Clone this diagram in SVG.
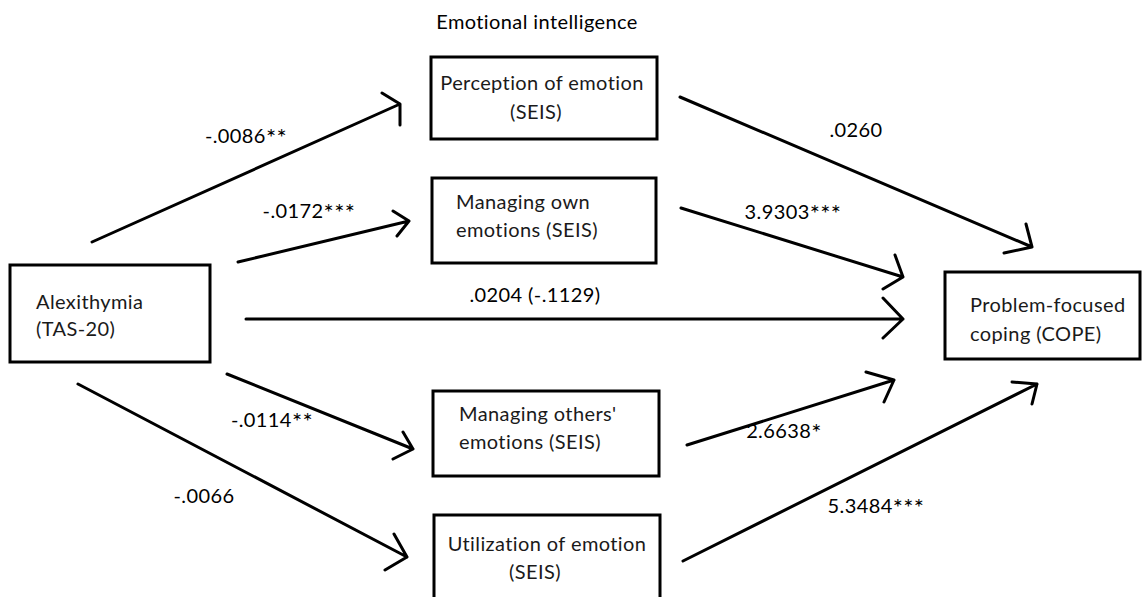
<svg xmlns="http://www.w3.org/2000/svg" width="1142" height="597" viewBox="0 0 1142 597">
<style>
.box{fill:#fff;stroke:#000;stroke-width:3}
.t{font-family:Lato,"Noto Sans",sans-serif;font-size:20px;letter-spacing:0.4px;fill:#1a1a1a}
.l{font-family:Lato,"Noto Sans",sans-serif;font-size:20px;letter-spacing:0.4px;fill:#000}
.s{font-size:24px}
.c{fill:none;stroke:#000;stroke-width:3;stroke-linecap:round;stroke-linejoin:round}
</style>
<rect width="1142" height="597" fill="#fff"/>
<text class="l" x="537" y="29" text-anchor="middle">Emotional intelligence</text>
<g id="connectors">
<path class="c" d="M92,242 L400,104 M382,93 L400,104 L400,125"/>
<path class="c" d="M238,262 L409,221 M393,211 L409,221 L397,236"/>
<path class="c" d="M246,319 L903,319 M883,298 L903,319 L883,338"/>
<path class="c" d="M227,374 L413,449 M403,432 L413,449 L393,459"/>
<path class="c" d="M78,384 L407,557 M394,534 L407,557 L385,570"/>
<path class="c" d="M680,97 L1032,247 M1026,224 L1032,247 L1004,253"/>
<path class="c" d="M681,208 L903,277 M895,255 L903,277 L883,289"/>
<path class="c" d="M687,445 L894,380 M866,372 L894,380 L884,402"/>
<path class="c" d="M683,561 L1037,384 M1012,382 L1037,384 L1032,404"/>
</g>
<g id="labels">
<text class="l" x="246" y="143" text-anchor="middle">-.0086<tspan class="s" dy="3">**</tspan></text>
<text class="l" x="309" y="218" text-anchor="middle">-.0172<tspan class="s" dy="3">***</tspan></text>
<text class="l" x="535" y="302" text-anchor="middle">.0204 (-.1129)</text>
<text class="l" x="272" y="427" text-anchor="middle">-.0114<tspan class="s" dy="3">**</tspan></text>
<text class="l" x="204" y="503" text-anchor="middle">-.0066</text>
<text class="l" x="856" y="137" text-anchor="middle">.0260</text>
<text class="l" x="793" y="219" text-anchor="middle">3.9303<tspan class="s" dy="3">***</tspan></text>
<text class="l" x="784" y="438" text-anchor="middle">2.6638<tspan class="s" dy="3">*</tspan></text>
<text class="l" x="876" y="513" text-anchor="middle">5.3484<tspan class="s" dy="3">***</tspan></text>
</g>
<g id="alexithymia">
<rect class="box" x="10" y="265" width="200" height="97"/>
<text class="t" x="36" y="309">Alexithymia</text>
<text class="t" x="36" y="336">(TAS-20)</text>
</g>
<g id="perception">
<rect class="box" x="431" y="57" width="226" height="82"/>
<text class="t" x="542" y="90" text-anchor="middle">Perception of emotion</text>
<text class="t" x="536" y="119" text-anchor="middle">(SEIS)</text>
</g>
<g id="managing-own">
<rect class="box" x="432" y="178" width="224" height="85"/>
<text class="t" x="456" y="209">Managing own</text>
<text class="t" x="456" y="237">emotions (SEIS)</text>
</g>
<g id="managing-others">
<rect class="box" x="433" y="391" width="226" height="85"/>
<text class="t" x="459" y="421">Managing others'</text>
<text class="t" x="459" y="449">emotions (SEIS)</text>
</g>
<g id="utilization">
<rect class="box" x="434" y="515" width="226" height="95"/>
<text class="t" x="547" y="551" text-anchor="middle">Utilization of emotion</text>
<text class="t" x="535" y="579" text-anchor="middle">(SEIS)</text>
</g>
<g id="problem-focused">
<rect class="box" x="945" y="272" width="195" height="87"/>
<text class="t" x="970" y="312">Problem-focused</text>
<text class="t" x="970" y="341">coping (COPE)</text>
</g>
</svg>
